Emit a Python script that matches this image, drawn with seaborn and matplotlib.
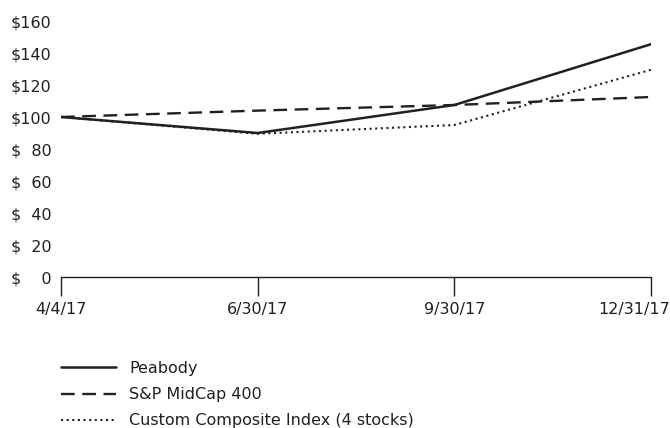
import pandas as pd
import matplotlib.pyplot as plt
import matplotlib.transforms as mtransforms
import seaborn as sns

dates = ["4/4/17", "6/30/17", "9/30/17", "12/31/17"]
peabody = [100, 90, 107.5, 145.5]
sp_midcap = [100, 104, 107.5, 112.5]
custom_index = [100, 89.5, 95, 129.5]
series_names = ["Peabody", "S&P MidCap 400", "Custom Composite Index (4 stocks)"]
y_ticks = [0, 20, 40, 60, 80, 100, 120, 140, 160]
y_labels = ["$\u2007\u20070", "$\u200720", "$\u200740", "$\u200760", "$\u200780",
            "$100", "$120", "$140", "$160"]


def build_frame():
    rows = []
    for name, values in zip(series_names, [peabody, sp_midcap, custom_index]):
        for i, v in enumerate(values):
            rows.append({"pos": i, "value": v, "series": name})
    return pd.DataFrame(rows)


def main():
    data = build_frame()
    sns.set_style("white")
    plt.rcParams["font.family"] = ["DejaVu Sans"]
    ink = "#231f20"

    fig = plt.figure(figsize=(6.7, 4.28), dpi=100)
    ax = fig.add_axes([61 / 670, 1 - 277 / 428, 590 / 670, 256 / 428])

    styles = {
        "Peabody": dict(linestyle="-", linewidth=1.8),
        "S&P MidCap 400": dict(linestyle=(0, (5.8, 3.2)), linewidth=1.7),
        "Custom Composite Index (4 stocks)": dict(linestyle=(0, (1, 1.7)), linewidth=1.5),
    }
    for name in series_names:
        sub = data[data["series"] == name]
        sns.lineplot(data=sub, x="pos", y="value", ax=ax, color=ink,
                     label=name, **styles[name])

    ax.set_xlim(0, len(dates) - 1)
    ax.set_ylim(0, 160)
    ax.set_xticks(range(len(dates)))
    ax.set_xticklabels(dates)
    ax.set_yticks(y_ticks)
    ax.set_yticklabels(y_labels)
    ax.set_xlabel("")
    ax.set_ylabel("")
    for side in ["top", "right", "left"]:
        ax.spines[side].set_visible(False)
    ax.spines["bottom"].set_color(ink)
    ax.spines["bottom"].set_linewidth(1.0)
    ax.tick_params(axis="x", bottom=True, direction="out", length=14, width=1.0, color=ink,
                   labelsize=11.5, labelcolor=ink, pad=4)
    ax.tick_params(axis="y", left=False, length=0, labelsize=11.5, labelcolor=ink, pad=7)

    # last date label sits flush with the right edge of the picture
    last = ax.get_xticklabels()[-1]
    last.set_horizontalalignment("right")
    last.set_transform(last.get_transform() +
                       mtransforms.ScaledTranslation(0.185, 0, fig.dpi_scale_trans))

    handles, labels = ax.get_legend_handles_labels()
    ax.get_legend().remove()
    fig.legend(handles, labels, loc="upper left", bbox_to_anchor=(61 / 670, 1 - 361 / 428),
               frameon=False, fontsize=11.5, handlelength=3.45, handletextpad=0.8,
               labelspacing=0.7, borderaxespad=0, borderpad=0, labelcolor=ink)

    plt.savefig("out.png", dpi=100)


if __name__ == "__main__":
    main()
